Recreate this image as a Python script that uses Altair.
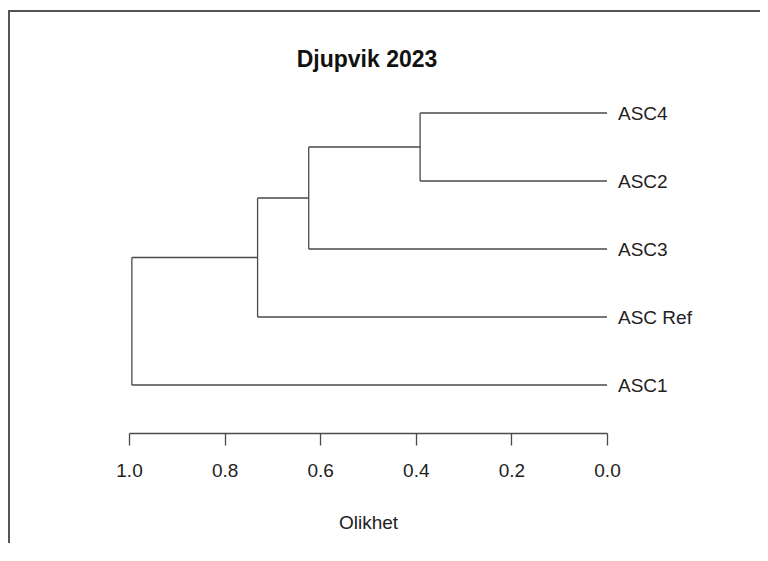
import altair as alt
import pandas as pd

# ---- data ----
leaves = ["ASC4", "ASC2", "ASC3", "ASC Ref", "ASC1"]          # top to bottom
merge_left = ["ASC4", "m1", "m2", "m3"]
merge_right = ["ASC2", "ASC3", "ASC Ref", "ASC1"]
merge_names = ["m1", "m2", "m3", "m4"]
merge_height = [0.391, 0.624, 0.731, 0.994]
tick_values = [0.0, 0.2, 0.4, 0.6, 0.8, 1.0]
title_text = "Djupvik 2023"
axis_title = "Olikhet"

# ---- build dendrogram segments ----
pos = {name: i + 1 for i, name in enumerate(leaves)}
hgt = {name: 0.0 for name in leaves}
segs = []
for a, b, m, h in zip(merge_left, merge_right, merge_names, merge_height):
    ya, yb = pos[a], pos[b]
    segs.append({"x": h, "x2": h, "y": ya, "y2": yb})
    segs.append({"x": h, "x2": hgt[a], "y": ya, "y2": ya})
    segs.append({"x": h, "x2": hgt[b], "y": yb, "y2": yb})
    pos[m] = (ya + yb) / 2
    hgt[m] = h
seg_df = pd.DataFrame(segs)
leaf_df = pd.DataFrame({"label": leaves, "y": list(range(1, len(leaves) + 1)), "x": [0.0] * len(leaves)})

FONT = "Liberation Sans"
LINE = "#4a4a4a"
TXT = "#222222"

xscale = alt.Scale(domain=[1.0, 0.0], nice=False, zero=False)
yscale = alt.Scale(domain=[0.5, 5.5], reverse=True, nice=False, zero=False)

tree = alt.Chart(seg_df).mark_rule(color=LINE, strokeWidth=1.3).encode(
    x=alt.X("x:Q", scale=xscale,
            axis=alt.Axis(values=tick_values, format=".1f", title=axis_title,
                          offset=14, tickSize=12, grid=False,
                          domainColor=LINE, tickColor=LINE, domainWidth=1.3, tickWidth=1.3,
                          labelFont=FONT, labelFontSize=19, labelColor=TXT,
                          labelPadding=16, labelFlush=False,
                          titleFont=FONT, titleFontSize=19, titleFontWeight="normal",
                          titleColor=TXT, titlePadding=33)),
    x2="x2:Q",
    y=alt.Y("y:Q", scale=yscale, axis=None),
    y2="y2:Q",
)

labels = alt.Chart(leaf_df).mark_text(
    align="left", baseline="middle", dx=11, dy=1, font=FONT, fontSize=19, color=TXT
).encode(
    x=alt.X("x:Q", scale=xscale),
    y=alt.Y("y:Q", scale=yscale),
    text="label:N",
)

one_df = pd.DataFrame({"k": [0]})
title_mark = alt.Chart(one_df).mark_text(
    align="center", baseline="alphabetic", font=FONT, fontSize=23, fontWeight="bold", color="#111"
).encode(x=alt.value(238), y=alt.value(-12), text=alt.value(title_text))

border_left = alt.Chart(one_df).mark_rule(color="#555", strokeWidth=2).encode(
    x=alt.value(-120), y=alt.value(-68), y2=alt.value(470)
)
border_top = alt.Chart(one_df).mark_rule(color="#555", strokeWidth=2).encode(
    x=alt.value(-121), x2=alt.value(631), y=alt.value(-68)
)

chart = alt.layer(border_left, border_top, tree, labels, title_mark).properties(
    width=478,
    height=340,
    background="white",
    autosize=alt.AutoSizeParams(type="none"),
    padding={"left": 121, "top": 71, "right": 153, "bottom": 124},
).configure_view(stroke="transparent", strokeWidth=0)

chart.save("out.html", embed_options={"renderer": "svg", "actions": False})
